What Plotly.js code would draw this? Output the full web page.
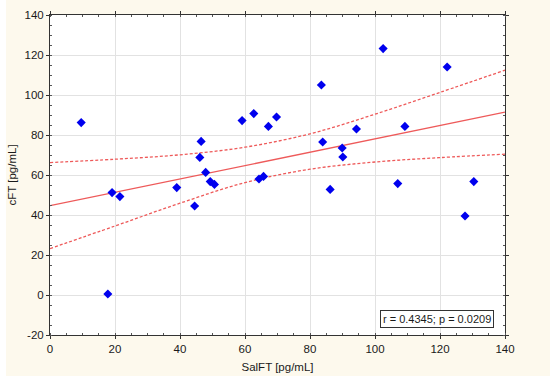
<!DOCTYPE html>
<html>
<head>
<meta charset="utf-8">
<script src="https://cdn.plot.ly/plotly-3.0.1.min.js"></script>
<style>
  html, body { margin: 0; padding: 0; background: #ffffff; width: 550px; height: 382px; overflow: hidden; }
  #chart { position: absolute; left: 6px; top: 0px; width: 544px; height: 376px; }
</style>
</head>
<body>
<div id="chart"></div>
<script>
const salFT = [9.6, 19.1, 21.5, 17.8, 39.0, 44.5, 46.5, 46.1, 47.9, 49.3, 50.6, 59.1, 62.7, 67.2, 69.7,
               64.3, 65.7, 83.5, 83.9, 86.2, 89.9, 90.1, 94.3, 102.5, 107.0, 109.2, 122.2, 127.7, 130.4];
const cFT   = [86.2, 51.2, 49.2, 0.5, 53.7, 44.5, 76.8, 68.8, 61.3, 56.7, 55.3, 87.2, 90.7, 84.3, 89.0,
               58.0, 59.3, 105.0, 76.5, 52.8, 73.5, 69.0, 83.0, 123.2, 55.7, 84.3, 114.0, 39.5, 56.7];

// Regression line and 95% confidence band
const fitX = [0, 140];
const fitY = [44.7, 91.4];
const bandX = [0, 20, 40, 60, 80, 100, 120, 140];
const bandUpper = [66.2, 67.9, 70.1, 73.9, 80.6, 90.4, 101.3, 112.4];
const bandLower = [23.2, 34.5, 45.9, 56.2, 62.9, 66.5, 68.7, 70.4];

// Tick labels
const xTickVals = [0, 20, 40, 60, 80, 100, 120, 140];
const xTickText = ['0', '20', '40', '60', '80', '100', '120', '140'];
const yTickVals = [-20, 0, 20, 40, 60, 80, 100, 120, 140];
const yTickText = ['-20', '0', '20', '40', '60', '80', '100', '120', '140'];

const statsLabel = 'r = 0.4345; p = 0.0209';
const xTitle = 'SalFT [pg/mL]';
const yTitle = 'cFT [pg/mL]';

const lineColor = '#ee5a5a';
const fontFamily = '"Liberation Sans", Arial, sans-serif';
const textColor = '#1a1a1a';

const traces = [
  { x: bandX, y: bandUpper, mode: 'lines', type: 'scatter', hoverinfo: 'skip',
    line: { color: lineColor, width: 1.3, dash: '3px,2px', shape: 'spline' } },
  { x: bandX, y: bandLower, mode: 'lines', type: 'scatter', hoverinfo: 'skip',
    line: { color: lineColor, width: 1.3, dash: '3px,2px', shape: 'spline' } },
  { x: fitX, y: fitY, mode: 'lines', type: 'scatter', hoverinfo: 'skip',
    line: { color: lineColor, width: 1.3 } },
  { x: salFT, y: cFT, mode: 'markers', type: 'scatter',
    marker: { symbol: 'diamond', size: 7, color: '#0000ee', line: { width: 0 } } }
];

const axisCommon = {
  showgrid: true, gridcolor: '#e2e2e2', gridwidth: 1,
  showline: true, linecolor: '#333', linewidth: 1, mirror: 'allticks',
  ticks: 'outside', ticklen: 3, tickcolor: '#333', tickwidth: 1,
  zeroline: false,
  tickmode: 'array',
  tickfont: { family: fontFamily, size: 11.5, color: textColor },
  minor: { ticks: 'inside', ticklen: 2, tickcolor: '#555', dtick: 5, tick0: 0, showgrid: false }
};

const layout = {
  width: 544, height: 376,
  margin: { l: 44, r: 45, t: 15, b: 41 },
  paper_bgcolor: '#fdf9ed',
  plot_bgcolor: '#ffffff',
  showlegend: false,
  font: { family: fontFamily, size: 11, color: textColor },
  xaxis: Object.assign({}, axisCommon, {
    range: [0, 140], tickvals: xTickVals, ticktext: xTickText,
    title: { text: xTitle, font: { family: fontFamily, size: 11.5, color: textColor }, standoff: 9 }
  }),
  yaxis: Object.assign({}, axisCommon, {
    range: [-20, 140], tickvals: yTickVals, ticktext: yTickText,
    title: { text: yTitle, font: { family: fontFamily, size: 11.5, color: textColor }, standoff: 8 }
  }),
  annotations: [{
    xref: 'paper', yref: 'paper', x: 0.975, y: 0.021, xanchor: 'right', yanchor: 'bottom',
    text: statsLabel, showarrow: false,
    font: { family: fontFamily, size: 11, color: textColor },
    bgcolor: '#ffffff', bordercolor: '#333', borderwidth: 1, borderpad: 2
  }]
};

Plotly.newPlot('chart', traces, layout, { displayModeBar: false, staticPlot: true });
</script>
</body>
</html>
